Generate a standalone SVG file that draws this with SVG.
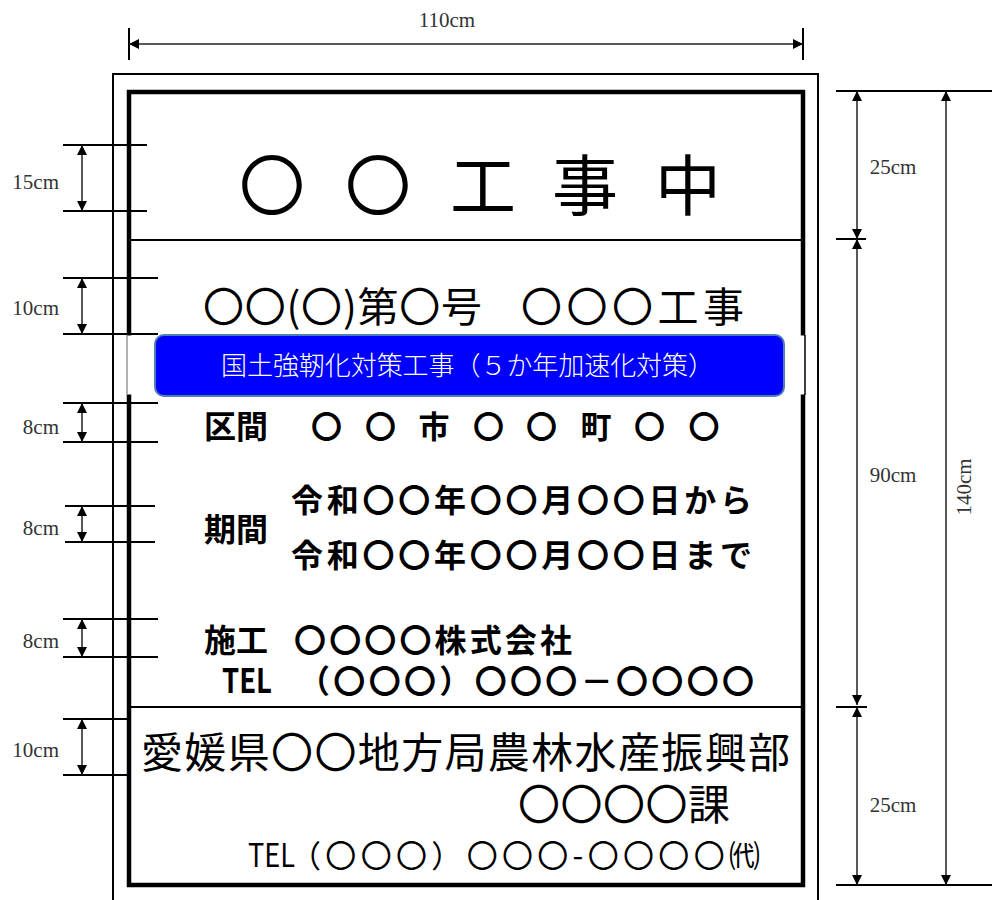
<svg xmlns="http://www.w3.org/2000/svg" width="992" height="900" viewBox="0 0 992 900">
<style>
.dim{fill:none;stroke:#222;stroke-width:1.5}
.tick{stroke:#000;stroke-width:2}
.dl{font-family:"Liberation Serif","DejaVu Serif",serif;font-size:21px;fill:#333}
.jp{font-family:"Noto Sans CJK JP","Noto Sans CJK SC",sans-serif;fill:#000}
.b{font-weight:bold}
</style>
<defs>
<marker id="ah" viewBox="0 0 10 10" refX="10" refY="5" markerWidth="10" markerHeight="10" markerUnits="userSpaceOnUse" orient="auto-start-reverse"><path d="M0,0 L10,5 L0,10 z" fill="#000"/></marker>
</defs>
<rect width="992" height="900" fill="#fff"/>
<g id="sign-frame">
<rect x="113" y="74" width="705" height="860" fill="#fff" stroke="#000" stroke-width="2"/>
<rect x="129" y="92" width="674" height="793" fill="none" stroke="#000" stroke-width="4.5"/>
<line x1="129" y1="240" x2="803" y2="240" stroke="#000" stroke-width="2"/>
<line x1="129" y1="707" x2="803" y2="707" stroke="#000" stroke-width="2"/>
</g>
<g id="title">
<text class="jp" font-size="66" y="210" x="272 378 483 585 688" text-anchor="middle">〇〇工事中</text>
</g>
<g id="project-name">
<text class="jp" font-size="41" x="203" y="322" textLength="279" lengthAdjust="spacing">〇〇(〇)第〇号</text>
<text class="jp" font-size="41" x="521" y="322" textLength="223" lengthAdjust="spacing">〇〇〇工事</text>
</g>
<g id="banner">
<rect x="125" y="335.5" width="681" height="59" fill="#fff"/>
<line x1="127" y1="335" x2="127" y2="395" stroke="#999" stroke-width="1.5"/>
<line x1="805" y1="335" x2="805" y2="395" stroke="#000" stroke-width="1.5"/>
<rect x="155" y="335" width="629" height="61" rx="9" fill="#0000ff" stroke="#4f7fb8" stroke-width="2"/>
<text class="jp" font-size="26" x="221" y="375" textLength="493" lengthAdjust="spacing" style="fill:#fff;font-weight:300">国土強靭化対策工事（５か年加速化対策）</text>
</g>
<g id="section">
<text class="jp b" font-size="32" x="204" y="438">区間</text>
<text class="jp b" font-size="31" y="438" x="326.5 380.5 434 488.5 541.5 596 649.5 704" text-anchor="middle">〇〇市〇〇町〇〇</text>
</g>
<g id="period">
<text class="jp b" font-size="32" x="204" y="541">期間</text>
<text class="jp b" font-size="32" x="291" y="512" textLength="461" lengthAdjust="spacing">令和〇〇年〇〇月〇〇日から</text>
<text class="jp b" font-size="32" x="291" y="567" textLength="461" lengthAdjust="spacing">令和〇〇年〇〇月〇〇日まで</text>
</g>
<g id="contractor">
<text class="jp b" font-size="32" x="204" y="652">施工</text>
<text class="jp b" font-size="32" x="294" y="652" textLength="278" lengthAdjust="spacing">〇〇〇〇株式会社</text>
<text class="jp b" font-size="34" x="222" y="693" textLength="50" lengthAdjust="spacingAndGlyphs">TEL</text>
<text class="jp b" font-size="32" x="298" y="693" textLength="456" lengthAdjust="spacing">（〇〇〇）〇〇〇－〇〇〇〇</text>
</g>
<g id="client">
<text class="jp" font-size="42" x="141" y="768" textLength="649" lengthAdjust="spacing">愛媛県〇〇地方局農林水産振興部</text>
<text class="jp" font-size="42" x="518" y="820" textLength="212" lengthAdjust="spacing">〇〇〇〇課</text>
<text class="jp" font-size="33" x="248" y="867" textLength="47" lengthAdjust="spacingAndGlyphs">TEL</text>
<text class="jp" font-size="31" x="290" y="867" textLength="470" lengthAdjust="spacing">（〇〇〇）〇〇〇-〇〇〇〇㈹</text>
</g>
<g id="connectors">
<line class="tick" x1="129" y1="28" x2="129" y2="60"/>
<line class="tick" x1="803" y1="28" x2="803" y2="60"/>
<line class="dim" x1="129" y1="44" x2="803" y2="44" marker-start="url(#ah)" marker-end="url(#ah)"/>
<line class="tick" x1="63" y1="145" x2="147" y2="145"/>
<line class="tick" x1="63" y1="211" x2="147" y2="211"/>
<line class="dim" x1="82" y1="145" x2="82" y2="211" marker-start="url(#ah)" marker-end="url(#ah)"/>
<line class="tick" x1="63" y1="278" x2="158" y2="278"/>
<line class="tick" x1="63" y1="334" x2="158" y2="334"/>
<line class="dim" x1="82" y1="278" x2="82" y2="334" marker-start="url(#ah)" marker-end="url(#ah)"/>
<line class="tick" x1="63" y1="403" x2="158" y2="403"/>
<line class="tick" x1="63" y1="442" x2="158" y2="442"/>
<line class="dim" x1="82" y1="403" x2="82" y2="442" marker-start="url(#ah)" marker-end="url(#ah)"/>
<line class="tick" x1="65" y1="506" x2="155" y2="506" stroke-width="1.5"/>
<line class="tick" x1="65" y1="542" x2="155" y2="542" stroke-width="1.5"/>
<line class="dim" x1="82" y1="506" x2="82" y2="542" marker-start="url(#ah)" marker-end="url(#ah)"/>
<line class="tick" x1="63" y1="619" x2="158" y2="619"/>
<line class="tick" x1="63" y1="657" x2="158" y2="657"/>
<line class="dim" x1="82" y1="619" x2="82" y2="657" marker-start="url(#ah)" marker-end="url(#ah)"/>
<line class="tick" x1="63" y1="719" x2="128" y2="719"/>
<line class="tick" x1="63" y1="775" x2="128" y2="775"/>
<line class="dim" x1="82" y1="719" x2="82" y2="775" marker-start="url(#ah)" marker-end="url(#ah)"/>
<line class="tick" x1="836" y1="91" x2="992" y2="91" stroke-width="2.5"/>
<line class="tick" x1="836" y1="239" x2="866" y2="239" stroke-width="2.5"/>
<line class="tick" x1="836" y1="707" x2="867" y2="707" stroke-width="2.5"/>
<line class="tick" x1="836" y1="885" x2="992" y2="885" stroke-width="2.5"/>
<line class="dim" x1="857" y1="91" x2="857" y2="239" marker-start="url(#ah)" marker-end="url(#ah)"/>
<line class="dim" x1="857" y1="239" x2="857" y2="705" marker-start="url(#ah)" marker-end="url(#ah)"/>
<line class="dim" x1="857" y1="707" x2="857" y2="885" marker-start="url(#ah)" marker-end="url(#ah)"/>
<line class="dim" x1="946" y1="91" x2="946" y2="885" marker-start="url(#ah)" marker-end="url(#ah)"/>
</g>
<g id="dimension-labels">
<text class="dl" x="447" y="27" text-anchor="middle">110cm</text>
<text class="dl" x="59" y="189" text-anchor="end">15cm</text>
<text class="dl" x="59" y="315" text-anchor="end">10cm</text>
<text class="dl" x="59" y="434" text-anchor="end">8cm</text>
<text class="dl" x="59" y="535" text-anchor="end">8cm</text>
<text class="dl" x="59" y="648" text-anchor="end">8cm</text>
<text class="dl" x="59" y="757" text-anchor="end">10cm</text>
<text class="dl" x="893" y="174" text-anchor="middle">25cm</text>
<text class="dl" x="893" y="482" text-anchor="middle">90cm</text>
<text class="dl" x="893" y="812" text-anchor="middle">25cm</text>
<text class="dl" transform="translate(971,487) rotate(-90)" text-anchor="middle">140cm</text>
</g>
</svg>
